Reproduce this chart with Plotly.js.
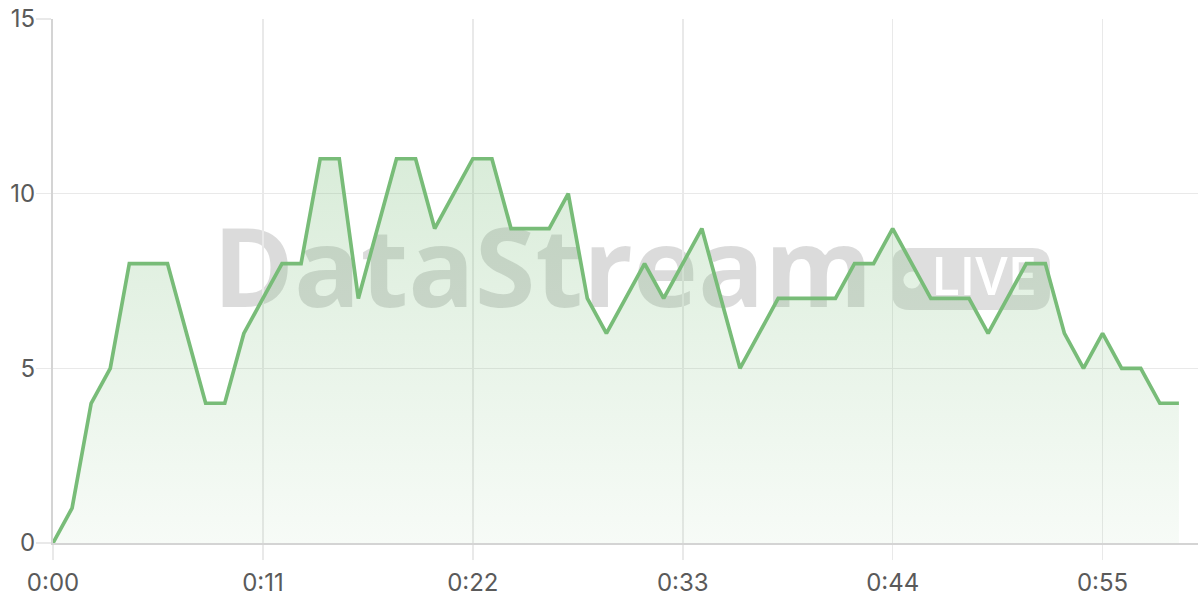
<!DOCTYPE html>
<html>
<head>
<meta charset="utf-8">
<script src="https://cdn.plot.ly/plotly-3.0.1.min.js"></script>
<style>
  html, body { margin: 0; padding: 0; background: #ffffff; }
  #chart { width: 1200px; height: 600px; }
</style>
</head>
<body>
<div id="chart"></div>
<script>
// Elapsed seconds and the measured values
const seconds = [0,1,2,3,4,5,6,7,8,9,10,11,12,13,14,15,16,17,18,19,20,21,22,23,24,25,26,27,28,29,30,31,32,33,34,35,36,37,38,39,40,41,42,43,44,45,46,47,48,49,50,51,52,53,54,55,56,57,58,59];
const values  = [0,1,4,5,8,8,8,6,4,4,6,7,8,8,11,11,7,9,11,11,9,10,11,11,9,9,9,10,7,6,7,8,7,8,9,7,5,6,7,7,7,7,8,8,9,8,7,7,7,6,7,8,8,6,5,6,5,5,4,4];

const xTickVals  = [0, 11, 22, 33, 44, 55];
const xTickText  = ["0:00", "0:11", "0:22", "0:33", "0:44", "0:55"];
const yTickVals  = [0, 5, 10, 15];

const watermarkText = "DataStream";
const badgeText = "LIVE";

const lineColor = "#78bc78";
const tickFont = { family: "Inter, 'Liberation Sans', sans-serif", size: 24, color: "#5a5a5a" };

const trace = {
  x: seconds,
  y: values,
  type: "scatter",
  mode: "lines",
  line: { color: lineColor, width: 3.7, shape: "linear" },
  fill: "tozeroy",
  fillgradient: {
    type: "vertical",
    start: 0,
    stop: 11,
    colorscale: [[0, "rgba(120,188,120,0.06)"], [1, "rgba(120,188,120,0.28)"]]
  },
  hoverinfo: "skip"
};

// rounded badge path in paper coordinates
const bx0 = 0.7328, bx1 = 0.8707, by0 = 0.4447, by1 = 0.5630, rx = 0.0150, ry = 0.0328;
const badgePath =
  `M ${bx0+rx},${by0} L ${bx1-rx},${by0} Q ${bx1},${by0} ${bx1},${by0+ry} ` +
  `L ${bx1},${by1-ry} Q ${bx1},${by1} ${bx1-rx},${by1} L ${bx0+rx},${by1} ` +
  `Q ${bx0},${by1} ${bx0},${by1-ry} L ${bx0},${by0+ry} Q ${bx0},${by0} ${bx0+rx},${by0} Z`;

const layout = {
  width: 1200,
  height: 600,
  margin: { l: 53, r: 2, t: 19, b: 57 },
  paper_bgcolor: "#ffffff",
  plot_bgcolor: "#ffffff",
  showlegend: false,
  xaxis: {
    range: [0, 60],
    tickvals: xTickVals,
    ticktext: xTickText,
    showgrid: true,
    gridcolor: "#e9e9e9",
    gridwidth: 1.5,
    zeroline: false,
    showline: true,
    linecolor: "#d4d4d4",
    linewidth: 2,
    ticks: "outside",
    ticklen: 15,
    tickwidth: 1.5,
    tickcolor: "#e9e9e9",
    tickfont: tickFont,
    ticklabelstandoff: 2,
    fixedrange: true
  },
  yaxis: {
    range: [0, 15],
    tickvals: yTickVals,
    showgrid: true,
    gridcolor: "#e9e9e9",
    gridwidth: 1.5,
    zeroline: false,
    showline: true,
    linecolor: "#d4d4d4",
    linewidth: 2,
    ticks: "outside",
    ticklen: 15,
    tickwidth: 1.5,
    tickcolor: "#e9e9e9",
    tickfont: tickFont,
    ticklabelstandoff: -4,
    fixedrange: true
  },
  shapes: [
    {
      type: "rect", layer: "below", xref: "paper", yref: "paper",
      x0: 0.1389, x1: 0.7162, y0: 0.4389, y1: 0.5973,
      line: { width: 0 }, fillcolor: "rgba(0,0,0,0)",
      label: {
        text: "<b>" + watermarkText + "</b>",
        textposition: "middle center",
        font: { family: "'Open Sans', 'Noto Sans', sans-serif", size: 110, color: "rgba(0,0,0,0.14)" }
      }
    },
    {
      type: "path", layer: "below", xref: "paper", yref: "paper",
      path: badgePath,
      line: { width: 0 }, fillcolor: "rgba(0,0,0,0.13)"
    },
    {
      type: "circle", layer: "below", xref: "paper", yref: "paper",
      x0: 0.7502 - 0.0075, x1: 0.7502 + 0.0075, y0: 0.5019 - 0.0164, y1: 0.5019 + 0.0164,
      line: { width: 0 }, fillcolor: "#ffffff"
    },
    {
      type: "rect", layer: "below", xref: "paper", yref: "paper",
      x0: 0.7703, x1: 0.8559, y0: by0, y1: by1,
      line: { width: 0 }, fillcolor: "rgba(0,0,0,0)",
      label: {
        text: badgeText,
        textposition: "middle center",
        font: { family: "'Open Sans', 'Noto Sans', sans-serif", size: 52, weight: 600, color: "#ffffff" }
      }
    }
  ]
};

Plotly.newPlot("chart", [trace], layout, { displayModeBar: false, staticPlot: true });
</script>
</body>
</html>
